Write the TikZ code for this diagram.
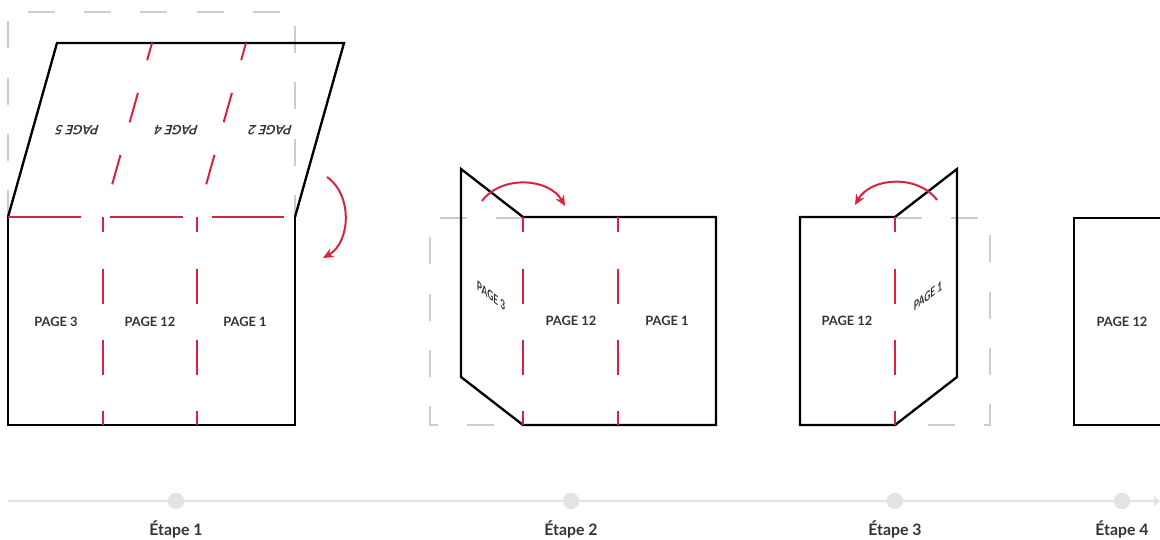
\documentclass[tikz,border=0pt]{standalone}
\usepackage{fontspec}
\setmainfont{Lato}
\usetikzlibrary{arrows.meta, positioning}
\definecolor{foldred}{HTML}{D7233F}
\definecolor{ghostgray}{HTML}{CCCCCC}
\definecolor{railgray}{HTML}{E3E3E3}
\definecolor{inkgray}{HTML}{333333}
\tikzset{
  sheet/.style = {draw = black, line width = 2pt},
  crease/.style = {draw = foldred, line width = 1.7pt, dash pattern = on 30pt off 31pt, dash phase = 17pt},
  slantcrease/.style = {crease, dash pattern = on 26pt off 29pt, dash phase = 26pt},
  ghost/.style = {draw = ghostgray, line width = 2pt, dash pattern = on 23pt off 25pt},
  flip/.style = {draw = foldred, line width = 1.7pt, -{Stealth[length = 9pt, width = 8pt]}},
  pagetxt/.style = {font = \bfseries\fontsize{11}{13}\selectfont, text = inkgray, inner sep = 0pt},
  dot/.style = {circle, fill = railgray, minimum size = 14pt, inner sep = 0pt},
  etape/.style = {font = \bfseries\fontsize{13.5}{15}\selectfont, text = inkgray, anchor = base}
}
\begin{document}
\begin{tikzpicture}[x = 0.03cm, y = -0.03cm]
\useasboundingbox (0,0) rectangle (1160,540);
% etape 1
\draw[ghost] (8,217) -- (8,12) -- (295,12) -- (295,217);
\draw[sheet] (8,217) -- (57,43) -- (344,43) -- (295,217);
\draw[sheet] (8,217) -- (8,425) -- (295,425) -- (295,217);
\draw[crease, dash pattern = on 62pt off 25pt, dash phase = 0pt] (8,217) -- (295,217);
\draw[crease] (103,217) -- (103,425);
\draw[crease] (197,217) -- (197,425);
\draw[slantcrease] (103,217) -- (152,43);
\draw[slantcrease] (197,217) -- (246,43);
\node[pagetxt, xslant = 0.28, rotate = 180] (p5) at (77,130) {PAGE 5};
\node[pagetxt, xslant = 0.28, rotate = 180] (p4) at (176,130) {PAGE 4};
\node[pagetxt, xslant = 0.28, rotate = 180] (p2) at (270,130) {PAGE 2};
\node[pagetxt] (p3a) at (56,322) {PAGE 3};
\node[pagetxt] (p12a) at (150,322) {PAGE 12};
\node[pagetxt] (p1a) at (245,322) {PAGE 1};
\coordinate (f1a) at (327,177);
\coordinate (f1b) at (323,258);
\draw[flip] (f1a) to[bend left = 58] (f1b);
% etape 2
\draw[ghost] (523,218) -- (430,218) -- (430,425) -- (523,425);
\draw[sheet] (461,169) -- (523,217) -- (716,217) -- (716,425) -- (523,425) -- (461,377) -- cycle;
\draw[crease] (523,217) -- (523,425);
\draw[crease] (618,217) -- (618,425);
\node[pagetxt, yslant = -0.77, xscale = 0.65] (p3b) at (491,296) {PAGE 3};
\node[pagetxt] (p12b) at (571,321) {PAGE 12};
\node[pagetxt] (p1b) at (667,321) {PAGE 1};
\coordinate (f2a) at (482,201);
\coordinate (f2b) at (565,206);
\draw[flip] (f2a) to[bend left = 57] (f2b);
% etape 3
\draw[ghost] (895,218) -- (990,218) -- (990,425) -- (895,425);
\draw[sheet] (800,217) -- (895,217) -- (957,169) -- (957,377) -- (895,425) -- (800,425) -- cycle;
\draw[crease] (895,217) -- (895,425);
\node[pagetxt] (p12c) at (847,321) {PAGE 12};
\node[pagetxt, yslant = 0.77, xscale = 0.65] (p1c) at (928,296) {PAGE 1};
\coordinate (f3a) at (937,200);
\coordinate (f3b) at (855,205);
\draw[flip] (f3a) to[bend right = 57] (f3b);
% etape 4
\draw[sheet] (1165,218) -- (1074,218) -- (1074,425) -- (1165,425);
\node[pagetxt] (p12d) at (1122,322) {PAGE 12};
% frise
\coordinate (r0) at (8,501);
\coordinate (r1) at (1160,501);
\draw[railgray, line width = 2pt, -{Triangle[length = 5pt, width = 8pt]}] (r0) -- (r1);
\node[dot] (d1) at (176,501) {};
\node[dot] (d2) at (571,501) {};
\node[dot] (d3) at (895,501) {};
\node[dot] (d4) at (1122,501) {};
\node[etape] (e1) at (176,535) {Étape 1};
\node[etape] (e2) at (571,535) {Étape 2};
\node[etape] (e3) at (895,535) {Étape 3};
\node[etape] (e4) at (1122,535) {Étape 4};
\end{tikzpicture}
\end{document}
